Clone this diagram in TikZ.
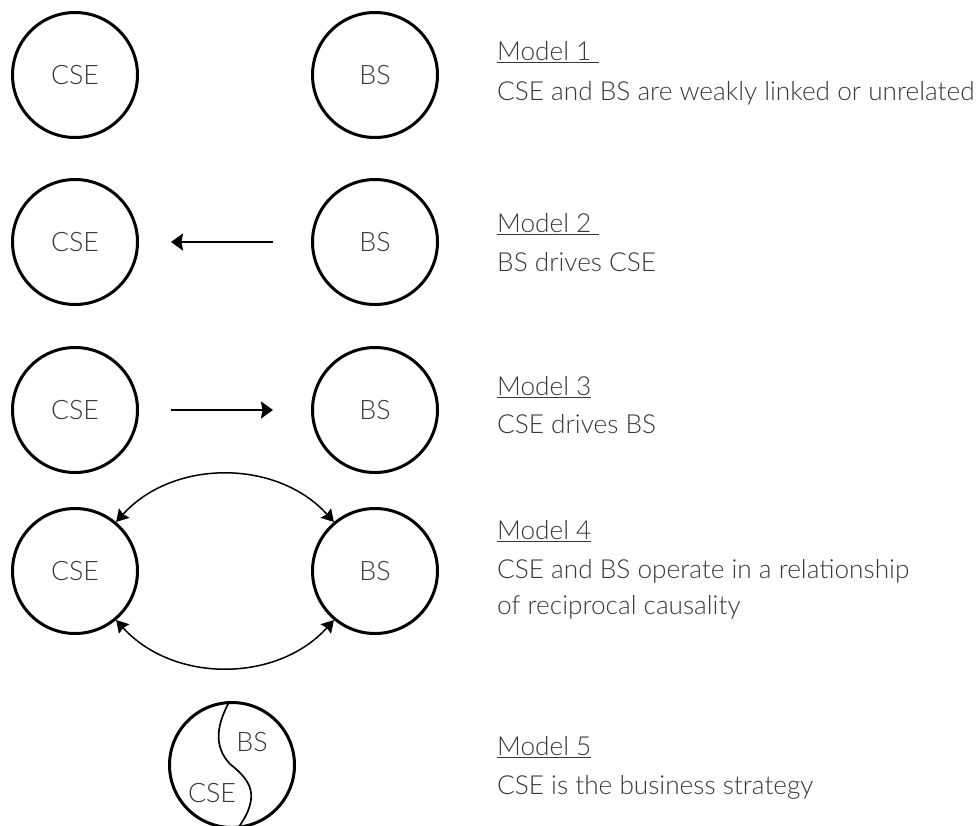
\documentclass[tikz,border=0pt]{standalone}
\usepackage{fontspec}
\setmainfont{Lato Light}
\usetikzlibrary{arrows.meta}

\definecolor{textgray}{HTML}{383838}

% underlined model heading
\newcommand\modelhead[1]{\setbox0=\hbox{#1}\rlap{\color{textgray}\rule[-3.2pt]{\wd0}{1.2pt}}\box0}

\tikzset{
  entity/.style={circle, draw=black, line width=3pt, minimum size=125pt,
    inner sep=0pt, text=textgray, font=\fontsize{26.8}{32}\selectfont},
  caption/.style={anchor=base west, inner sep=0pt, text=textgray,
    font=\fontsize{26.2}{32}\selectfont},
  label/.style={inner sep=0pt, text=textgray, font=\fontsize{26.8}{32}\selectfont},
  straight/.style={line width=2pt, -{Stealth[length=12pt,width=17pt,inset=1.5pt]}},
  mutual/.style={line width=1.5pt,
    {Stealth[length=12pt,width=14pt,inset=1.5pt]}-{Stealth[length=12pt,width=14pt,inset=1.5pt]}},
  boundary/.style={line width=1.7pt}
}

\begin{document}
\begin{tikzpicture}[x=1pt,y=-1pt]
\useasboundingbox (0,0) rectangle (979,825);

% Model 1
\node[entity] (cse1) at (75,75) {CSE};
\node[entity] (bs1) at (375,75) {BS};

% Model 2
\node[entity] (cse2) at (75,242) {CSE};
\node[entity] (bs2) at (375,242) {BS};
\draw[straight, shorten <=38pt, shorten >=32pt] (bs2) -- (cse2);

% Model 3
\node[entity] (cse3) at (75,410) {CSE};
\node[entity] (bs3) at (375,410) {BS};
\draw[straight, shorten <=32pt, shorten >=38pt] (cse3) -- (bs3);

% Model 4
\node[entity] (cse4) at (75,571) {CSE};
\node[entity] (bs4) at (375,571) {BS};
\draw[mutual] (cse4.50) to[bend left=48] (bs4.130);
\draw[mutual] (cse4.-50) to[bend right=48] (bs4.-130);

% Model 5
\node[entity] (m5) at (232,765) {};
\node[label] (m5bs) at (252,742) {BS};
\node[label] (m5cse) at (212,793) {CSE};
\draw[boundary] (m5.92) .. controls (218,722) and (212,745) .. (230,764)
  .. controls (250,780) and (262,795) .. (m5.-85);

% Captions
\node[caption] (t1) at (497,60) {\modelhead{Model 1\ }};
\node[caption] (d1) at (497,100) {CSE and BS are weakly linked or unrelated};
\node[caption] (t2) at (497,232) {\modelhead{Model 2\ }};
\node[caption] (d2) at (497,271) {BS drives CSE};
\node[caption] (t3) at (497,395) {\modelhead{Model 3}};
\node[caption] (d3) at (497,433) {CSE drives BS};
\node[caption] (t4) at (497,539) {\modelhead{Model 4}};
\node[caption] (d4a) at (497,578) {CSE and BS operate in a relationship};
\node[caption] (d4b) at (497,614) {of reciprocal causality};
\node[caption] (t5) at (497,755) {\modelhead{Model 5}};
\node[caption] (d5) at (497,794) {CSE is the business strategy};
\end{tikzpicture}
\end{document}
